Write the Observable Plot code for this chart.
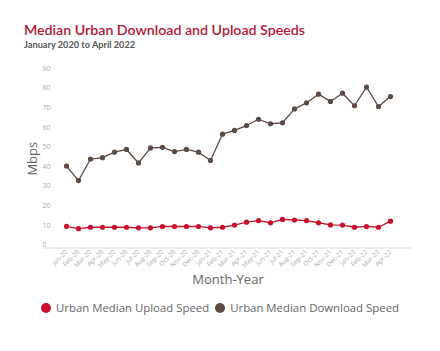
<!DOCTYPE html>
<html><head><meta charset="utf-8">
<script src="https://cdn.jsdelivr.net/npm/d3@7"></script>
<script src="https://cdn.jsdelivr.net/npm/@observablehq/plot@0.6"></script>
<style>
body{margin:0;background:#fff;font-family:"Open Sans",sans-serif;}
#wrap{position:relative;width:440px;height:351px;overflow:hidden;background:#fff}
#title{position:absolute;left:24px;top:21px;font-family:Lato,sans-serif;font-size:14.2px;font-weight:600;color:#b5173b;white-space:nowrap;line-height:18px}
#sub{position:absolute;left:24px;top:39px;font-family:Lato,sans-serif;font-size:9.2px;font-weight:700;color:#555;white-space:nowrap;line-height:12px}
#chart{position:absolute;left:0;top:55px}
#legend{position:absolute;left:0;top:300px;width:440px;display:flex;justify-content:center;align-items:center;font-size:11.4px;color:#666;white-space:nowrap;line-height:16px}
.item{display:flex;align-items:center;margin:0 3px}
.dot{width:10px;height:10px;border-radius:50%;margin-right:5px}
</style></head>
<body><div id="wrap">
<div id="title">Median Urban Download and Upload Speeds</div>
<div id="sub">January 2020 to April 2022</div>
<div id="chart"></div>
<div id="legend"></div>
</div>
<script>
const months = ["Jan-20","Feb-20","Mar-20","Apr-20","May-20","Jun-20","Jul-20","Aug-20","Sep-20","Oct-20","Nov-20","Dec-20",
"Jan-21","Feb-21","Mar-21","Apr-21","May-21","Jun-21","Jul-21","Aug-21","Sep-21","Oct-21","Nov-21","Dec-21",
"Jan-22","Feb-22","Mar-22","Apr-22"];
const download = [40.2,32.8,43.8,44.5,47.3,48.7,41.8,49.5,49.8,47.6,48.7,47.3,43.1,56.5,58.4,60.9,64.1,61.8,62.3,69.4,72.5,76.9,73.2,77.4,71.0,80.5,70.6,75.7];
const upload = [9.5,8.3,9.0,9.0,9.0,9.0,8.7,8.7,9.4,9.4,9.4,9.4,8.7,9.0,10.1,11.6,12.4,11.3,13.0,12.7,12.4,11.3,10.2,10.1,9.0,9.4,9.0,12.1];
const seriesNames = ["Urban Median Upload Speed","Urban Median Download Speed"];
const seriesColors = ["#c8102e","#5b4b43"];
const yTicks = [0,10,20,30,40,50,60,70,80,90];

const rows = [];
months.forEach((m,i)=>{
  rows.push({month:m, value:upload[i], series:seriesNames[0]});
  rows.push({month:m, value:download[i], series:seriesNames[1]});
});

const chart = Plot.plot({
  width:440, height:235,
  marginLeft:43, marginRight:28, marginTop:13, marginBottom:45.6,
  style:{fontFamily:"Open Sans, sans-serif", background:"transparent"},
  x:{type:"point", domain:months, padding:0.85},
  y:{domain:[0,90]},
  color:{domain:seriesNames, range:seriesColors},
  marks:[
    Plot.ruleY([0],{stroke:"#e8e8e8", strokeWidth:1.5, dy:3}),
    Plot.axisY({ticks:yTicks, tickSize:0, tickPadding:0, textAnchor:"start", dx:-1, fontSize:7, fill:"#aaa", label:null}),
    Plot.axisX({tickSize:0, tickRotate:-45, tickPadding:6, fontSize:6.5, fill:"#aaa", label:null}),
    Plot.text(["Mbps"],{frameAnchor:"left", textAnchor:"middle", lineAnchor:"middle", text:d=>d, rotate:-90, dx:-11, dy:2, fontSize:13, fill:"#666"}),
    Plot.text(["Month-Year"],{frameAnchor:"bottom", lineAnchor:"middle", text:d=>d, dy:34.5, fontSize:13, fill:"#666"}),
    Plot.line(rows,{x:"month", y:"value", z:"series", stroke:"series", strokeWidth:1.3}),
    Plot.dot(rows,{x:"month", y:"value", fill:"series", r:2.6})
  ]
});
document.getElementById("chart").appendChild(chart);

const legend = document.getElementById("legend");
seriesNames.forEach((s,i)=>{
  const it = document.createElement("div"); it.className="item";
  const d = document.createElement("span"); d.className="dot"; d.style.background=seriesColors[i];
  const t = document.createElement("span"); t.textContent=s;
  it.appendChild(d); it.appendChild(t); legend.appendChild(it);
});
</script>
</body></html>
